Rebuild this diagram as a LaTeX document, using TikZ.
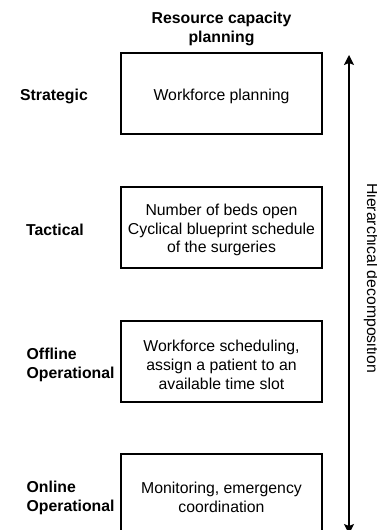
\documentclass[tikz,border=0pt]{standalone}
\usepackage{fontspec}
\setmainfont{Liberation Sans}
\usetikzlibrary{arrows.meta}
\begin{document}
\begin{tikzpicture}[x=1pt,y=-1pt,
  txt/.style={font=\fontsize{15.8}{18.7}\selectfont, inner sep=0pt, align=center},
  level/.style={txt, font=\fontsize{15.8}{19}\selectfont\bfseries},
  planbox/.style={draw, line width=1.2pt, minimum width=201pt, minimum height=81pt, inner sep=0pt},
  boxtext/.style={txt, yshift=-2.5pt}
]
\clip (0,0) rectangle (377,530);

% column header
\node[level] (head) at (221.5,29) {Resource capacity\\planning};

% planning levels and their boxes
\node[planbox] (b1) at (221.5,93.5) {};
\node[planbox] (b2) at (221.5,227.5) {};
\node[planbox] (b3) at (221.5,361.5) {};
\node[planbox] (b4) at (221.5,494.5) {};

\node[boxtext] (t1) at (b1) {Workforce planning};
\node[boxtext] (t2) at (b2) {Number of beds open\\Cyclical blueprint schedule\\of the surgeries};
\node[boxtext, yshift=-1pt] (t3) at (b3) {Workforce scheduling,\\assign a patient to an\\available time slot};
\node[boxtext] (t4) at (b4) {Monitoring, emergency\\coordination};

\node[level] (l1) at (54,96.5) {Strategic};
\node[level] (l2) at (55,229.5) {Tactical};
\node[level, align=left, anchor=west] (l3) at (26.5,365) {Offline\\Operational};
\node[level, align=left, anchor=west] (l4) at (26.5,498) {Online\\Operational};

% hierarchy axis
\coordinate (top) at (349,55);
\coordinate (bot) at (349,534);
\draw[line width=1.2pt, {Stealth[length=10pt,width=10pt,inset=2pt]}-{Stealth[length=10pt,width=10pt,inset=2pt]}] (top) -- (bot);
\node[txt, rotate=-90, anchor=base] (axis) at (367,278) {Hierarchical decomposition};
\end{tikzpicture}
\end{document}
